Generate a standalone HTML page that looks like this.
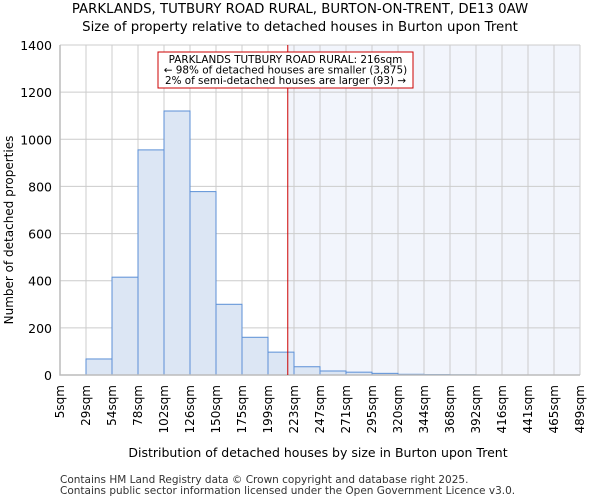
<!DOCTYPE html>
<html><head><meta charset="utf-8"><style>
body{margin:0;background:#fff;font-family:"DejaVu Sans","Liberation Sans",sans-serif;}
</style></head><body>
<svg width="600" height="500" xmlns="http://www.w3.org/2000/svg" id="chart" font-family="DejaVu Sans, Liberation Sans, sans-serif">
<text x="300" y="13" text-anchor="middle" font-size="13.3">PARKLANDS, TUTBURY ROAD RURAL, BURTON-ON-TRENT, DE13 0AW</text>
<text x="300" y="31" text-anchor="middle" font-size="13.3">Size of property relative to detached houses in Burton upon Trent</text>
<text x="318" y="457" text-anchor="middle" font-size="12.5">Distribution of detached houses by size in Burton upon Trent</text>
<text transform="translate(13,230) rotate(-90)" text-anchor="middle" font-size="12">Number of detached properties</text>
<text x="60" y="483" font-size="10.5" fill="#333">Contains HM Land Registry data © Crown copyright and database right 2025.</text>
<text x="60" y="494" font-size="10.5" fill="#333">Contains public sector information licensed under the Open Government Licence v3.0.</text>
<g id="plot"></g>
</svg>
<script>
const tickLabels=["5sqm","29sqm","54sqm","78sqm","102sqm","126sqm","150sqm","175sqm","199sqm","223sqm","247sqm","271sqm","295sqm","320sqm","344sqm","368sqm","392sqm","416sqm","441sqm","465sqm","489sqm"];
const counts=[0,68,415,955,1120,778,300,160,97,35,17,12,7,3,2,1,0,0,0,0];
const yTicks=[0,200,400,600,800,1000,1200,1400];
const propertySize=217;
const binStart=5, binWidth=24.2;
const NS="http://www.w3.org/2000/svg";
const g=document.getElementById('plot');
const L=60,R=580,T=45,B=375,yMax=1400;
const nb=tickLabels.length-1;
const xBin=i=>L+(R-L)*i/nb;
const xVal=v=>L+(R-L)*(v-binStart)/(binWidth*nb);
const y=v=>B-(B-T)*v/yMax;
function mk(t,a){const e=document.createElementNS(NS,t);for(const k in a)e.setAttribute(k,a[k]);g.appendChild(e);return e;}
const px=xVal(propertySize);
const hr=mk('rect',{x:px,y:T,width:R-px,height:B-T,fill:'#f2f5fc'});


yTicks.forEach(v=>{const l=mk('line',{x1:L,x2:R,y1:y(v),y2:y(v),stroke:'#ccc','stroke-width':1});


const t=mk('text',{x:L-8,y:y(v)+5,'text-anchor':'end','font-size':12.5});t.textContent=v;

});
tickLabels.forEach((s,i)=>{const x=xBin(i);const l=mk('line',{x1:x,x2:x,y1:T,y2:B,stroke:'#ccc','stroke-width':1});


const t=mk('text',{transform:`translate(${x+4},${B+10}) rotate(-90)`,'text-anchor':'end','font-size':12});t.textContent=s;

});
counts.forEach((c,i)=>{if(c<=0)return;const r=mk('rect',{x:xBin(i),y:y(c),width:xBin(i+1)-xBin(i),height:B-y(c),fill:'#dce6f4',stroke:'#5b8fd6','stroke-width':1});

});
const ax=mk('path',{d:`M${L},${T}V${B}H${R}`,fill:'none',stroke:'#bbb','stroke-width':1.5});


const ml=mk('line',{x1:px,x2:px,y1:T,y2:B,stroke:'#c00','stroke-width':1});


const box=mk('rect',{x:158,y:52,width:255,height:36,fill:'#fff',stroke:'#c00','stroke-width':1});


["PARKLANDS TUTBURY ROAD RURAL: 216sqm","← 98% of detached houses are smaller (3,875)","2% of semi-detached houses are larger (93) →"].forEach((s,i)=>{
const t=mk('text',{x:285.5,y:63+i*10.5,'text-anchor':'middle','font-size':10.4});t.textContent=s;

});
</script>
</body></html>
